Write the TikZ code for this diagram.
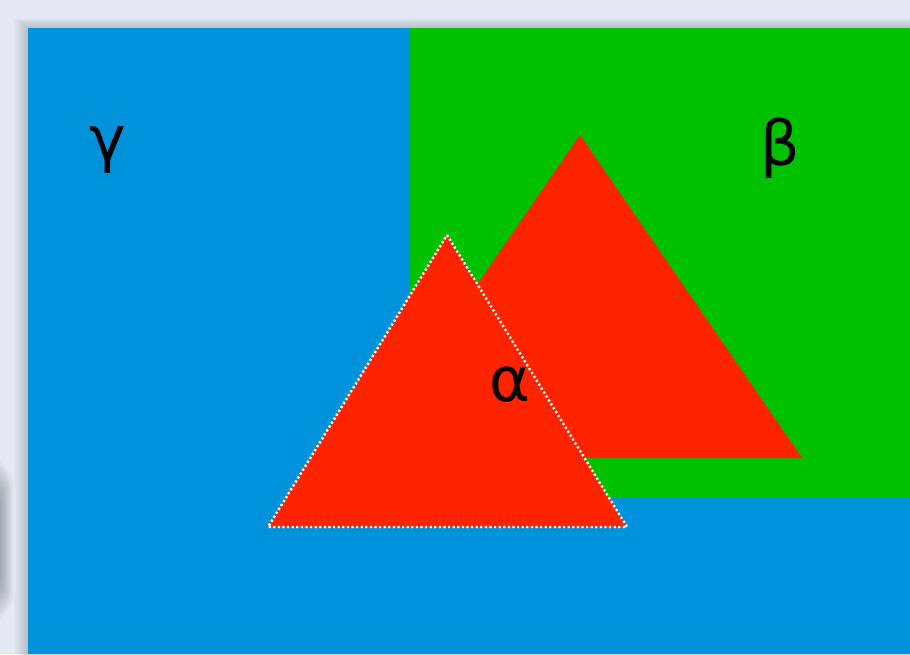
\documentclass[tikz,border=0pt]{standalone}
\usepackage{fontspec}
\setmainfont{DejaVu Sans}
\definecolor{bgc}{RGB}{228,234,244}
\definecolor{bluec}{RGB}{0,146,219}
\definecolor{greenc}{RGB}{0,193,0}
\definecolor{redc}{RGB}{255,36,0}
\tikzset{
  lbl/.style={font=\fontsize{62}{62}\selectfont, text=black, inner sep=0pt},
  dotline/.style={draw=white, line width=2.4pt, dash pattern=on 2.2pt off 2.4pt}
}
\begin{document}
\begin{tikzpicture}[x=1pt,y=-1pt]
\fill[bgc] (0,0) rectangle (910,654);
\useasboundingbox (0,0) rectangle (910,654);
\begin{scope}
\clip (0,0) rectangle (910,654);
% soft shadow around the blue panel
\foreach \i in {1,...,14}{
  \fill[black, opacity=0.012] (28-\i,28-\i*0.7) rectangle (920,664);
}
% blurred shadow at left edge
\foreach \i in {1,...,30}{
  \fill[black, opacity=0.02, rounded corners=30pt] (-60,455+\i*1.4) rectangle (14-\i*0.9,625-\i*1.4);
}
\end{scope}
\fill[bluec] (28,28) rectangle (910,654);
\fill[greenc] (410,28) rectangle (910,497);
\fill[redc] (580,135) -- (802,458) -- (358,458) -- cycle;
\fill[redc] (447,235) -- (627,527) -- (268,527) -- cycle;
\draw[dotline] (447,235) -- (627,527) -- (268,527) -- cycle;
\node[lbl] (g) at (108,150) {γ};
\node[lbl] (b) at (780,148) {β};
\node[lbl] (a) at (510,385) {α};
\end{tikzpicture}
\end{document}
